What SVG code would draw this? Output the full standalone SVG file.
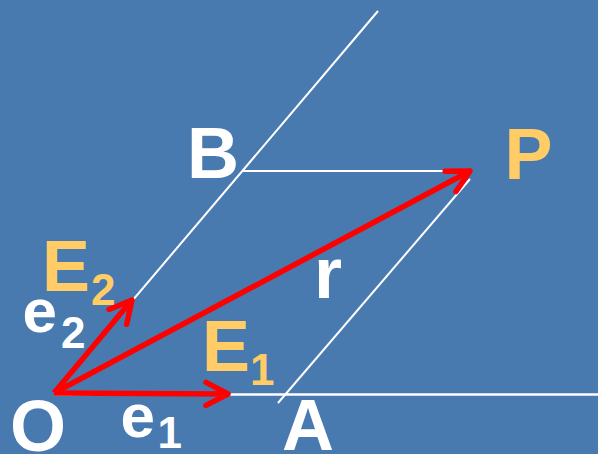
<svg xmlns="http://www.w3.org/2000/svg" width="598" height="454" viewBox="0 0 598 454">
<style>
.ln{stroke:#ffffff;stroke-width:2;fill:none}
.vec{stroke:#ff0000;stroke-width:5.5;fill:none;marker-end:url(#head)}
.t{font-family:"Liberation Sans",Arial,sans-serif;font-weight:bold}
.w{fill:#ffffff}
.y{fill:#ffcc66}
.cap{font-size:72px}
.lc{font-size:62px}
.sub{font-size:44px}
</style>
<defs>
<marker id="head" markerUnits="userSpaceOnUse" markerWidth="40" markerHeight="40" viewBox="-30 -20 40 40" refX="0" refY="0" orient="auto">
<path d="M-22,-11.5 L0,0 L-22,11.5" stroke="#ff0000" stroke-width="5.5" fill="none" stroke-linecap="round" stroke-linejoin="round"/>
</marker>
</defs>
<rect width="598" height="454" fill="#487ab0"/>
<g id="axes">
<line class="ln" x1="54" y1="393" x2="378" y2="11"/>
<line class="ln" x1="54" y1="394.5" x2="598" y2="394.5" style="stroke-width:2.5"/>
<line class="ln" x1="243" y1="171" x2="468" y2="171"/>
<line class="ln" x1="278" y1="403" x2="470" y2="179"/>
</g>
<g id="connectors">
<line class="vec" x1="54" y1="393" x2="228" y2="394"/>
<line class="vec" x1="54" y1="393" x2="132" y2="300"/>
<line class="vec" x1="54" y1="393" x2="470" y2="171"/>
</g>
<g id="node-O"><text class="t cap w" x="10" y="451">O</text></g>
<g id="node-A"><text class="t cap w" x="282" y="450">A</text></g>
<g id="node-B"><text class="t cap w" x="187" y="178">B</text></g>
<g id="node-P"><text class="t cap y" x="504.5" y="179">P</text></g>
<g id="label-r"><text class="t cap w" x="314" y="298">r</text></g>
<g id="label-E2"><text class="t cap y" x="42" y="291">E</text><text class="t sub y" x="91" y="305">2</text></g>
<g id="label-E1"><text class="t cap y" x="202" y="371">E</text><text class="t sub y" x="250" y="385">1</text></g>
<g id="label-e2"><text class="t lc w" x="22.5" y="332">e</text><text class="t sub w" x="61" y="348">2</text></g>
<g id="label-e1"><text class="t lc w" x="120.5" y="437">e</text><text class="t sub w" x="157.5" y="448">1</text></g>
</svg>
